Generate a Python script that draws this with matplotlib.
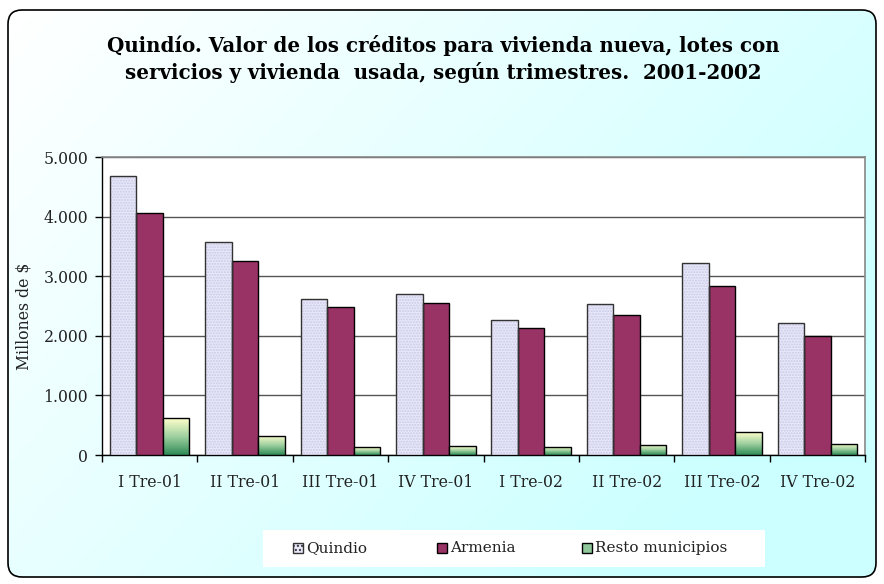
import matplotlib
matplotlib.use("Agg")
import matplotlib.pyplot as plt
import numpy as np
from matplotlib.patches import FancyBboxPatch, Rectangle
from matplotlib.colors import LinearSegmentedColormap

categories = ["I Tre-01", "II Tre-01", "III Tre-01", "IV Tre-01",
              "I Tre-02", "II Tre-02", "III Tre-02", "IV Tre-02"]
quindio = [4680, 3580, 2610, 2700, 2265, 2535, 3225, 2210]
armenia = [4065, 3250, 2490, 2545, 2130, 2355, 2835, 2000]
resto = [615, 325, 130, 150, 140, 170, 385, 185]
series_names = ["Quindio", "Armenia", "Resto municipios"]
yticks = [0, 1000, 2000, 3000, 4000, 5000]
ytick_labels = ["0", "1.000", "2.000", "3.000", "4.000", "5.000"]
title = ("Quindío. Valor de los créditos para vivienda nueva, lotes con\n"
         "servicios y vivienda  usada, según trimestres.  2001-2002")

W, H = 884, 584
fig = plt.figure(figsize=(W / 100, H / 100), dpi=100)
fig.patch.set_facecolor("white")

# background with rounded frame and gradient (pixel coordinates overlay)
bg = fig.add_axes([0, 0, 1, 1], zorder=-10)
bg.set_xlim(0, W)
bg.set_ylim(H, 0)
bg.axis("off")
gx = np.linspace(0, 1, 200)
gy = np.linspace(0, 1, 200)
GX, GY = np.meshgrid(gx, gy)
G = np.clip(GX * 0.75 + GY * 0.45, 0, 1)
cmap_bg = LinearSegmentedColormap.from_list("bg", ["#FFFFFF", "#E6FFFF", "#CCFFFF"])
frame = FancyBboxPatch((8, 10), 868, 567, boxstyle="round,pad=0,rounding_size=14",
                       facecolor="none", edgecolor="black", linewidth=1.2)
bg.add_patch(frame)
im = bg.imshow(G, cmap=cmap_bg, extent=(8, 876, 577, 10), aspect="auto", zorder=0)
im.set_clip_path(frame)

# main axes
left, right = 102 / W, 865 / W
bottom, top = (H - 455) / H, (H - 157) / H
ax = fig.add_axes([left, bottom, right - left, top - bottom])
ax.set_facecolor("white")

x = np.arange(len(categories))
bw = 0.278
off = [-bw, 0, bw]

q_face, q_hatch = "#E8E8FA", "#C9C9E6"
a_face = "#993366"
cmap_g = LinearSegmentedColormap.from_list("g", ["#2E8B57", "#9FD0A0", "#FFFFCC"])

# Quindio: hatched lavender
ax.bar(x + off[0], quindio, bw, color=q_face, edgecolor=q_hatch, hatch="......",
       linewidth=0, zorder=3)
ax.bar(x + off[0], quindio, bw, color="none", edgecolor="#333333", linewidth=1.0, zorder=4)
# Armenia
ax.bar(x + off[1], armenia, bw, color=a_face, edgecolor="black", linewidth=1.0, zorder=3)
# Resto: gradient
rb = ax.bar(x + off[2], resto, bw, color="none", edgecolor="black", linewidth=1.0, zorder=5)
grad = np.linspace(0, 1, 100).reshape(-1, 1)
for p in rb:
    x0, y0 = p.get_x(), p.get_y()
    w, h = p.get_width(), p.get_height()
    gi = ax.imshow(grad, cmap=cmap_g, origin="lower", aspect="auto",
                   extent=(x0, x0 + w, y0, y0 + h), zorder=4)
    gi.set_clip_path(p)

ax.set_xlim(-0.5, len(categories) - 0.5)
ax.set_ylim(0, 5000)
ax.set_yticks(yticks)
ax.set_yticklabels(ytick_labels)
ax.yaxis.grid(True, color="#555555", linewidth=1.0, zorder=0)
ax.set_axisbelow(True)

ax.set_xticks(x)
ax.set_xticklabels(categories)
ax.set_xticks(np.arange(-0.5, len(categories)), minor=True)
ax.tick_params(axis="x", which="major", length=0, pad=14)
ax.tick_params(axis="x", which="minor", length=5, width=1, direction="out")
ax.tick_params(axis="y", length=5, width=1, direction="out", pad=5)

for lab in ax.get_xticklabels() + ax.get_yticklabels():
    lab.set_fontfamily("DejaVu Serif")
    lab.set_fontsize(11.3)
    lab.set_color("#222222")

for s in ["top", "right"]:
    ax.spines[s].set_color("#888888")
    ax.spines[s].set_linewidth(1.2)
for s in ["left", "bottom"]:
    ax.spines[s].set_color("black")
    ax.spines[s].set_linewidth(1.0)

ax.set_ylabel("Millones de $", fontfamily="DejaVu Serif", fontsize=11.3, color="#222222")
ax.yaxis.set_label_coords((33 - 102) / 763, (455 - 316) / 298)

fig.text(443 / W, 1 - 59 / H, title, ha="center", va="center",
         fontfamily="DejaVu Serif", fontweight="bold", fontsize=14.3, linespacing=1.4)

# legend (manual, Excel-like equal columns)
bg.add_patch(Rectangle((263, 530), 502, 37, facecolor="white", edgecolor="none", zorder=2))
leg_x = [293, 437, 582]
leg_y = 548
sq = 10
bg.add_patch(Rectangle((leg_x[0], leg_y - sq / 2), sq, sq, facecolor=q_face,
                       edgecolor="#333333", hatch="....", linewidth=1.0, zorder=3))
bg.add_patch(Rectangle((leg_x[1], leg_y - sq / 2), sq, sq, facecolor=a_face,
                       edgecolor="black", linewidth=1.0, zorder=3))
bg.add_patch(Rectangle((leg_x[2], leg_y - sq / 2), sq, sq, facecolor="#8FC79A",
                       edgecolor="black", linewidth=1.0, zorder=3))
for lx, name in zip(leg_x, series_names):
    bg.text(lx + sq + 3, leg_y, name, ha="left", va="center", fontfamily="DejaVu Serif",
            fontsize=11, color="#222222", zorder=4)

fig.savefig("out.png", dpi=100)
